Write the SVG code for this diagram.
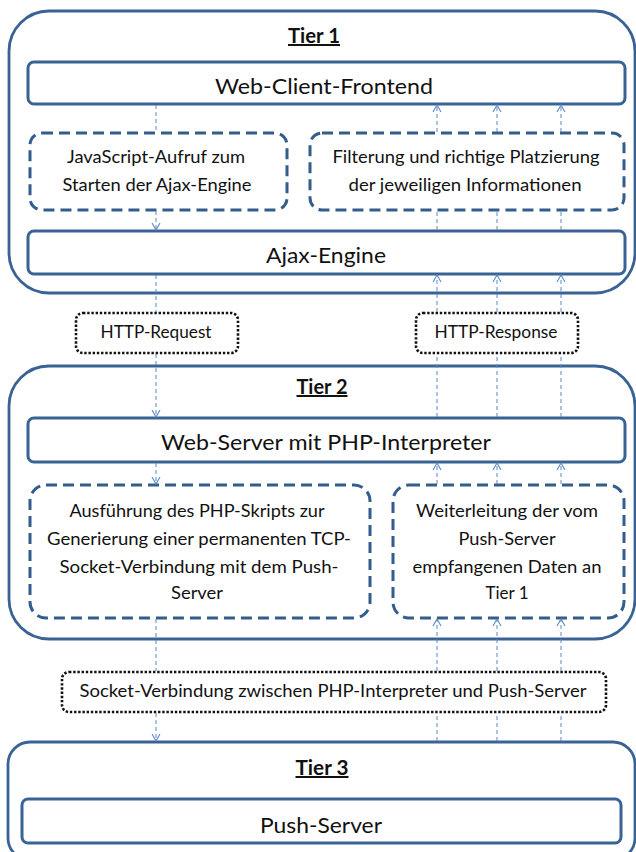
<svg xmlns="http://www.w3.org/2000/svg" width="636" height="852" viewBox="0 0 636 852">
  <style>
    .tier { fill: #ffffff; stroke: #3a6395; stroke-width: 2.8; }
    .box { fill: #ffffff; stroke: #3a6395; stroke-width: 3; }
    .dash { fill: none; stroke: #335d8c; stroke-width: 3; stroke-dasharray: 11 6; }
    .dot { fill: #ffffff; stroke: #111111; stroke-width: 2.6; stroke-dasharray: 2.4 1.8; }
    .conn { fill: none; stroke: #5a8ac6; stroke-width: 1; stroke-dasharray: 4 3; }
    text { font-family: Lato, "Open Sans", "Liberation Sans", sans-serif; fill: #111111; text-anchor: middle; }
    .title { font-weight: bold; font-size: 20px; text-decoration: underline; }
    .main { font-size: 22px; }
    .desc { font-size: 17px; }
    .lbl { font-size: 17px; }
  </style>
  <defs>
    <marker id="arrow" viewBox="0 0 10 10" refX="9" refY="5" markerWidth="10" markerHeight="10" markerUnits="userSpaceOnUse" orient="auto">
      <path d="M2,1 L9,5 L2,9" fill="none" stroke="#5a8ac6" stroke-width="1.1"/>
    </marker>
  </defs>

  <!-- Tier 1: client -->
  <g id="tier1">
    <rect class="tier" x="9" y="11" width="626" height="282" rx="40"/>
    <text class="title" x="314" y="43" textLength="52" lengthAdjust="spacingAndGlyphs">Tier 1</text>
  </g>
  <g id="web-client-frontend">
    <rect class="box" x="28" y="62" width="597" height="42" rx="6"/>
    <text class="main" x="324" y="94" textLength="218" lengthAdjust="spacingAndGlyphs">Web-Client-Frontend</text>
  </g>
  <g id="js-call">
    <rect class="dash" x="30" y="133" width="257" height="77" rx="12"/>
    <text class="desc" x="156" y="163" textLength="178" lengthAdjust="spacingAndGlyphs">JavaScript-Aufruf zum</text>
    <text class="desc" x="157" y="191" textLength="189" lengthAdjust="spacingAndGlyphs">Starten der Ajax-Engine</text>
  </g>
  <g id="filtering">
    <rect class="dash" x="310" y="133" width="314" height="77" rx="12"/>
    <text class="desc" x="466" y="163" textLength="267" lengthAdjust="spacingAndGlyphs">Filterung und richtige Platzierung</text>
    <text class="desc" x="465" y="191" textLength="233" lengthAdjust="spacingAndGlyphs">der jeweiligen Informationen</text>
  </g>
  <g id="ajax-engine">
    <rect class="box" x="28" y="231" width="597" height="43" rx="6"/>
    <text class="main" x="326" y="263" textLength="120" lengthAdjust="spacingAndGlyphs">Ajax-Engine</text>
  </g>

  <!-- Transport labels between tiers -->
  <g id="http-request">
    <rect class="dot" x="76" y="313" width="162" height="40" rx="7"/>
    <text class="lbl" x="156" y="338" textLength="111" lengthAdjust="spacingAndGlyphs">HTTP-Request</text>
  </g>
  <g id="http-response">
    <rect class="dot" x="416" y="313" width="162" height="40" rx="7"/>
    <text class="lbl" x="496" y="338" textLength="123" lengthAdjust="spacingAndGlyphs">HTTP-Response</text>
  </g>

  <!-- Tier 2: web server -->
  <g id="tier2">
    <rect class="tier" x="9" y="366" width="626" height="273" rx="40"/>
    <text class="title" x="322" y="394" textLength="51" lengthAdjust="spacingAndGlyphs">Tier 2</text>
  </g>
  <g id="web-server">
    <rect class="box" x="28" y="418" width="597" height="44" rx="6"/>
    <text class="main" x="326" y="450" textLength="330" lengthAdjust="spacingAndGlyphs">Web-Server mit PHP-Interpreter</text>
  </g>
  <g id="php-script">
    <rect class="dash" x="30" y="485" width="340" height="133" rx="16"/>
    <text class="desc" x="197" y="517" textLength="255" lengthAdjust="spacingAndGlyphs">Ausführung des PHP-Skripts zur</text>
    <text class="desc" x="199" y="545" textLength="304" lengthAdjust="spacingAndGlyphs">Generierung einer permanenten TCP-</text>
    <text class="desc" x="199" y="573" textLength="279" lengthAdjust="spacingAndGlyphs">Socket-Verbindung mit dem Push-</text>
    <text class="desc" x="197" y="599" textLength="52" lengthAdjust="spacingAndGlyphs">Server</text>
  </g>
  <g id="forwarding">
    <rect class="dash" x="393" y="485" width="231" height="133" rx="16"/>
    <text class="desc" x="507" y="517" textLength="182" lengthAdjust="spacingAndGlyphs">Weiterleitung der vom</text>
    <text class="desc" x="507" y="545" textLength="97" lengthAdjust="spacingAndGlyphs">Push-Server</text>
    <text class="desc" x="507" y="573" textLength="189" lengthAdjust="spacingAndGlyphs">empfangenen Daten an</text>
    <text class="desc" x="507" y="599" textLength="43" lengthAdjust="spacingAndGlyphs">Tier 1</text>
  </g>

  <g id="socket-connection">
    <rect class="dot" x="62" y="672" width="544" height="40" rx="7"/>
    <text class="lbl" x="333" y="697" textLength="507" lengthAdjust="spacingAndGlyphs">Socket-Verbindung zwischen PHP-Interpreter und Push-Server</text>
  </g>

  <!-- Tier 3: push server -->
  <g id="tier3">
    <rect class="tier" x="8" y="742" width="627" height="118" rx="22"/>
    <text class="title" x="322" y="775" textLength="53" lengthAdjust="spacingAndGlyphs">Tier 3</text>
  </g>
  <g id="push-server">
    <rect class="box" x="22" y="799" width="599" height="44" rx="6"/>
    <text class="main" x="321" y="833" textLength="122" lengthAdjust="spacingAndGlyphs">Push-Server</text>
  </g>

  <!-- Connectors: request path (down) and response paths (up) -->
  <g id="connectors">
    <line class="conn" x1="156" y1="105" x2="156" y2="132"/>
    <line class="conn" x1="156" y1="211" x2="156" y2="230" marker-end="url(#arrow)"/>
    <line class="conn" x1="156" y1="275" x2="156" y2="312"/>
    <line class="conn" x1="156" y1="354" x2="156" y2="417" marker-end="url(#arrow)"/>
    <line class="conn" x1="156" y1="463" x2="156" y2="484" marker-end="url(#arrow)"/>
    <line class="conn" x1="156" y1="619" x2="156" y2="671"/>
    <line class="conn" x1="156" y1="713" x2="156" y2="741" marker-end="url(#arrow)"/>

    <line class="conn" x1="437" y1="132" x2="437" y2="105" marker-end="url(#arrow)"/>
    <line class="conn" x1="497" y1="132" x2="497" y2="105" marker-end="url(#arrow)"/>
    <line class="conn" x1="561" y1="132" x2="561" y2="105" marker-end="url(#arrow)"/>
    <line class="conn" x1="437" y1="230" x2="437" y2="211"/>
    <line class="conn" x1="497" y1="230" x2="497" y2="211"/>
    <line class="conn" x1="561" y1="230" x2="561" y2="211"/>
    <line class="conn" x1="437" y1="312" x2="437" y2="275" marker-end="url(#arrow)"/>
    <line class="conn" x1="497" y1="312" x2="497" y2="275" marker-end="url(#arrow)"/>
    <line class="conn" x1="561" y1="312" x2="561" y2="275" marker-end="url(#arrow)"/>
    <line class="conn" x1="437" y1="417" x2="437" y2="354"/>
    <line class="conn" x1="497" y1="417" x2="497" y2="354"/>
    <line class="conn" x1="561" y1="417" x2="561" y2="354"/>
    <line class="conn" x1="437" y1="484" x2="437" y2="463" marker-end="url(#arrow)"/>
    <line class="conn" x1="497" y1="484" x2="497" y2="463" marker-end="url(#arrow)"/>
    <line class="conn" x1="561" y1="484" x2="561" y2="463" marker-end="url(#arrow)"/>
    <line class="conn" x1="437" y1="671" x2="437" y2="619" marker-end="url(#arrow)"/>
    <line class="conn" x1="497" y1="671" x2="497" y2="619" marker-end="url(#arrow)"/>
    <line class="conn" x1="561" y1="671" x2="561" y2="619" marker-end="url(#arrow)"/>
    <line class="conn" x1="437" y1="741" x2="437" y2="713"/>
    <line class="conn" x1="497" y1="741" x2="497" y2="713"/>
    <line class="conn" x1="561" y1="741" x2="561" y2="713"/>
  </g>
</svg>
